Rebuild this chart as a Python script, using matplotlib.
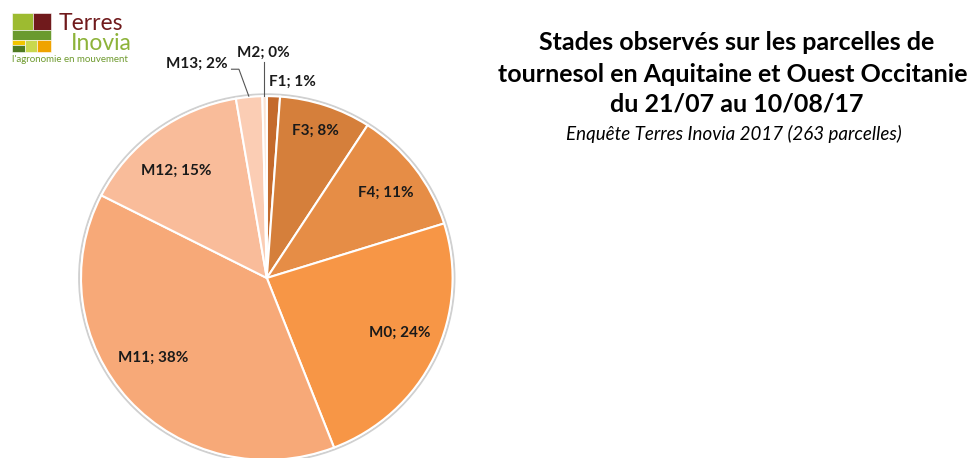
import matplotlib.pyplot as plt
from matplotlib.patches import Rectangle, Ellipse

plt.rcParams['font.family'] = ['Lato', 'DejaVu Sans']

# stades observes, nombre de parcelles (263 au total)
stades = ['F1', 'F3', 'F4', 'M0', 'M11', 'M12', 'M13', 'M2']
parcelles = [3, 21, 29, 63, 101, 39, 6, 1]
pourcents = ['1%', '8%', '11%', '24%', '38%', '15%', '2%', '0%']
couleurs = ['#C46A2C', '#D57F3B', '#E68D46', '#F79646', '#F7A978',
            '#F9BC9A', '#FBCDB4', '#FCE3D3']

fig = plt.figure(figsize=(9.75, 4.58), dpi=100)

# pie axes (slightly wider than tall, like the reference)
ax = fig.add_axes([77.3 / 975, -5.5 / 458, 379 / 975, 371 / 458])
ax.add_patch(Ellipse((0, 0), 2.02, 2.02, facecolor='none', edgecolor='#D0D0D0',
                     linewidth=1.5, zorder=0))
wedges, _ = ax.pie(parcelles, colors=couleurs, startangle=90, counterclock=False,
                   wedgeprops=dict(edgecolor='white', linewidth=1.5))
ax.set_aspect('auto')
ax.set_xlim(-1.02, 1.02)
ax.set_ylim(-1.02, 1.02)
ax.axis('off')

# label positions in pie coords
pos = {'F1': (0.14, 1.08), 'F3': (0.26, 0.81), 'F4': (0.64, 0.47),
       'M0': (0.715, -0.30), 'M11': (-0.61, -0.44), 'M12': (-0.49, 0.59),
       'M13': (-0.376, 1.18), 'M2': (-0.016, 1.24)}
for s, p in zip(stades, pourcents):
    x, y = pos[s]
    ax.text(x, y, f'{s}; {p}', ha='center', va='center', fontsize=11,
            fontweight='bold', color='#1a1a1a', clip_on=False)

# leader lines for small slices
ax.plot([-0.016, -0.016], [1.0, 1.19], color='#555555', lw=0.8, clip_on=False)
ax.plot([-0.097, -0.15, -0.19], [1.0, 1.148, 1.148], color='#555555', lw=0.8,
        clip_on=False)

# title
fig.text(737 / 975, 1 - 42 / 458, 'Stades observés sur les parcelles de',
         ha='center', va='center', fontsize=18, fontweight='bold')
fig.text(733 / 975, 1 - 74 / 458, 'tournesol en Aquitaine et Ouest Occitanie',
         ha='center', va='center', fontsize=18, fontweight='bold')
fig.text(737 / 975, 1 - 104 / 458, 'du 21/07 au 10/08/17',
         ha='center', va='center', fontsize=18, fontweight='bold')
fig.text(734 / 975, 1 - 134 / 458, 'Enquête Terres Inovia 2017 (263 parcelles)',
         ha='center', va='center', fontsize=13.5, style='italic')

# logo
logo = [(12, 13, 21, 17, '#9DBB30'), (33, 13, 18, 17, '#701A1C'),
        (12, 30, 39, 10, '#6A9A2E'), (12, 40, 13, 5, '#F2C500'),
        (12, 45, 13, 7, '#4F7A22'), (25, 40, 12, 12, '#C9D84E'),
        (37, 40, 14, 12, '#F0A300')]
for x, y, w, h, c in logo:
    fig.patches.append(Rectangle((x / 975, 1 - (y + h) / 458), w / 975, h / 458,
                                 transform=fig.transFigure, facecolor=c,
                                 edgecolor='white', linewidth=0.4))
fig.text(59 / 975, 1 - 23 / 458, 'Terres', fontsize=16.5, color='#701A1C',
         va='center', ha='left')
fig.text(71 / 975, 1 - 43 / 458, 'Inovia', fontsize=16.5, color='#8DB33A',
         va='center', ha='left')
fig.text(12 / 975, 1 - 60 / 458, "l'agronomie en mouvement", fontsize=7,
         color='#6E9A2E', va='center', ha='left')

fig.savefig('out.png', dpi=100)
